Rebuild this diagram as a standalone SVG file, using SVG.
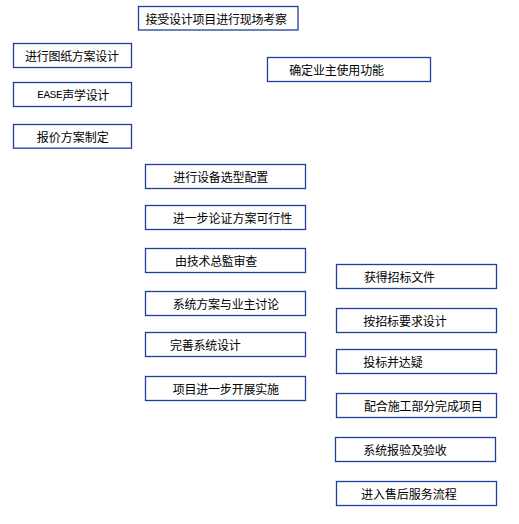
<svg xmlns="http://www.w3.org/2000/svg" width="519" height="524" viewBox="0 0 519 524">
<style>
.b{fill:#fff;stroke:#1f3f99;stroke-width:1.3}
.t{font-family:"Noto Sans CJK SC","Liberation Sans",sans-serif;font-size:12px;fill:#000;dominant-baseline:central}
.m{font-family:"Liberation Mono",monospace;font-size:11px}
</style>
<rect width="519" height="524" fill="#fff"/>
<g id="connectors"></g>
<g id="n1"><rect class="b" x="138.5" y="6.5" width="159.5" height="23.5"/><text class="t" x="145.5" y="18.3" textLength="141.5" lengthAdjust="spacing">接受设计项目进行现场考察</text></g>
<g id="n2"><rect class="b" x="13.5" y="43.5" width="118" height="24"/><text class="t" x="25" y="55.5" textLength="94" lengthAdjust="spacing">进行图纸方案设计</text></g>
<g id="n3"><rect class="b" x="13.5" y="82.5" width="118" height="24"/><text class="t" x="37.3" y="94.5" textLength="72" lengthAdjust="spacing"><tspan class="m">EASE</tspan>声学设计</text></g>
<g id="n4"><rect class="b" x="13.5" y="124.5" width="118" height="23.7"/><text class="t" x="36.7" y="136.3" textLength="72" lengthAdjust="spacing">报价方案制定</text></g>
<g id="n5"><rect class="b" x="267.5" y="57.5" width="163" height="24"/><text class="t" x="289.3" y="69.5" textLength="94.7" lengthAdjust="spacing">确定业主使用功能</text></g>
<g id="n6"><rect class="b" x="145.5" y="164.5" width="160" height="24"/><text class="t" x="173.3" y="176.5" textLength="95" lengthAdjust="spacing">进行设备选型配置</text></g>
<g id="n7"><rect class="b" x="145.5" y="205.5" width="160" height="24"/><text class="t" x="172.7" y="217.7" textLength="119.6" lengthAdjust="spacing">进一步论证方案可行性</text></g>
<g id="n8"><rect class="b" x="145.5" y="248.5" width="160" height="24"/><text class="t" x="175" y="260.5" textLength="82.3" lengthAdjust="spacing">由技术总監审查</text></g>
<g id="n9"><rect class="b" x="145.5" y="291.5" width="160" height="24"/><text class="t" x="172.7" y="303.5" textLength="106.3" lengthAdjust="spacing">系统方案与业主讨论</text></g>
<g id="n10"><rect class="b" x="145.5" y="332.5" width="160" height="24"/><text class="t" x="170" y="344.5" textLength="70.7" lengthAdjust="spacing">完善系统设计</text></g>
<g id="n11"><rect class="b" x="145.5" y="376.5" width="160" height="24"/><text class="t" x="172.7" y="388.7" textLength="106.3" lengthAdjust="spacing">项目进一步开展实施</text></g>
<g id="n12"><rect class="b" x="336.5" y="264.5" width="160" height="24"/><text class="t" x="364" y="276.5" textLength="71" lengthAdjust="spacing">获得招标文件</text></g>
<g id="n13"><rect class="b" x="336.5" y="308.5" width="160" height="24"/><text class="t" x="363.3" y="320.5" textLength="83.4" lengthAdjust="spacing">按招标要求设计</text></g>
<g id="n14"><rect class="b" x="336.5" y="349.5" width="160" height="24"/><text class="t" x="363.3" y="361.5" textLength="59.4" lengthAdjust="spacing">投标并达疑</text></g>
<g id="n15"><rect class="b" x="336.5" y="393.5" width="160" height="24"/><text class="t" x="364" y="405.5" textLength="118.7" lengthAdjust="spacing">配合施工部分完成项目</text></g>
<g id="n16"><rect class="b" x="335.5" y="437.5" width="160" height="24"/><text class="t" x="363.3" y="449.5" textLength="83.4" lengthAdjust="spacing">系统报验及验收</text></g>
<g id="n17"><rect class="b" x="336.5" y="481.5" width="160" height="24"/><text class="t" x="361" y="493.5" textLength="95.7" lengthAdjust="spacing">进入售后服务流程</text></g>
</svg>
